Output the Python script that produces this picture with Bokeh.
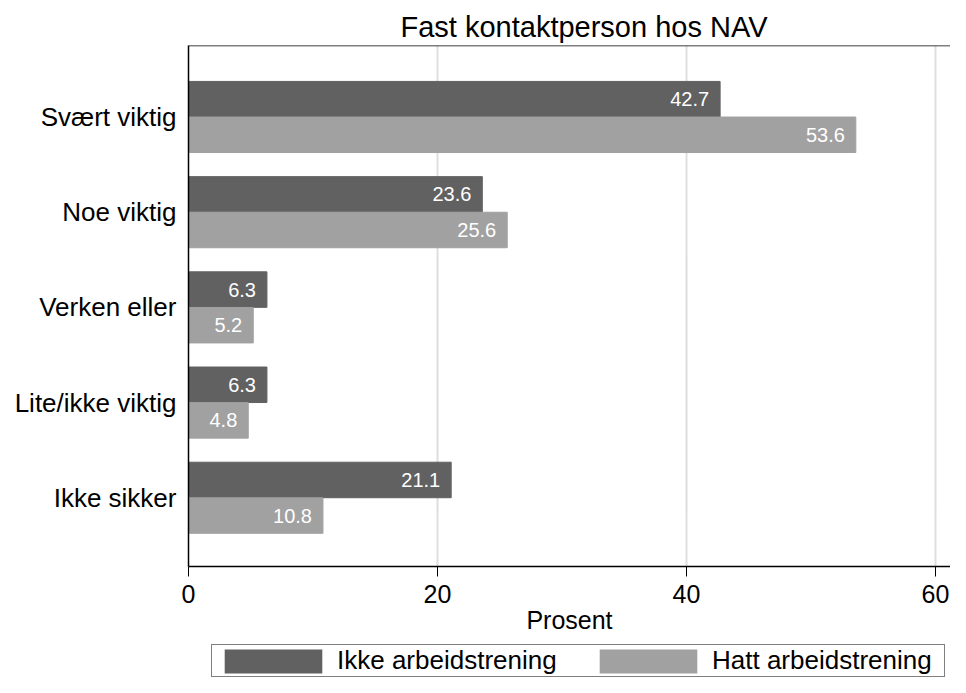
from bokeh.plotting import figure
from bokeh.layouts import column
from bokeh.models import (ColumnDataSource, FixedTicker, Legend, LegendItem, Span, Range1d)
from bokeh.embed import file_html
from bokeh.resources import INLINE

categories = ["Svært viktig", "Noe viktig", "Verken eller", "Lite/ikke viktig", "Ikke sikker"]
ikke_arbeidstrening = [42.7, 23.6, 6.3, 6.3, 21.1]
hatt_arbeidstrening = [53.6, 25.6, 5.2, 4.8, 10.8]
series_names = ["Ikke arbeidstrening", "Hatt arbeidstrening"]
x_ticks = [0, 20, 40, 60]

FONT = "Liberation Sans"
DARK = "#616161"
LIGHT = "#a1a1a1"
OFF = 0.187
H = 0.373
W = 950
LEFT = 188
FW = W - LEFT
XMAX = FW / 12.45
TOP = 45
BOTTOM = 78
LEG_H = 677 - (TOP + 521 + BOTTOM)

n = len(categories)
ypos = [n - 1 - i for i in range(n)]

src1 = ColumnDataSource(dict(y=[y + OFF for y in ypos], v=ikke_arbeidstrening,
                             lbl=[f"{v:.1f}" for v in ikke_arbeidstrening]))
src2 = ColumnDataSource(dict(y=[y - OFF for y in ypos], v=hatt_arbeidstrening,
                             lbl=[f"{v:.1f}" for v in hatt_arbeidstrening]))

p = figure(frame_width=FW, frame_height=521, output_backend="svg", toolbar_location=None,
           x_range=Range1d(0, XMAX), y_range=Range1d(-0.722, n - 1 + 0.751),
           min_border_left=LEFT, min_border_right=0, min_border_top=TOP, min_border_bottom=BOTTOM,
           background_fill_color="white", border_fill_color="white")
p.outline_line_color = None

p.title.text = "Fast kontaktperson hos NAV"
p.title.align = "left"
p.title.offset = 212
p.title.text_font = FONT
p.title.text_font_size = "29px"
p.title.text_font_style = "normal"
p.title.text_color = "black"
p.title.standoff = 6

r1 = p.hbar(y="y", right="v", left=0, height=H, source=src1, fill_color=DARK, line_color=DARK)
r2 = p.hbar(y="y", right="v", left=0, height=H, source=src2, fill_color=LIGHT, line_color=LIGHT)

for s in (src1, src2):
    p.text(x="v", y="y", text="lbl", source=s, x_offset=-11, text_align="right",
           text_baseline="middle", text_color="white", text_font_size="20px",
           text_font={"value": FONT})

p.add_layout(Span(location=n - 1 + 0.751, dimension="width", line_color="black", line_width=1.5))

# x axis
xa = p.xaxis[0]
xa.ticker = FixedTicker(ticks=x_ticks)
xa.axis_label = "Prosent"
xa.axis_label_text_font = FONT
xa.axis_label_text_font_size = "25px"
xa.axis_label_text_font_style = "normal"
xa.axis_label_standoff = 0
xa.major_label_text_font = FONT
xa.major_label_text_font_size = "25px"
xa.major_label_standoff = 8
xa.major_tick_out = 10
xa.major_tick_in = 0
xa.minor_tick_line_color = None
xa.axis_line_color = "black"
xa.axis_line_width = 1.5
xa.major_tick_line_color = "black"
xa.major_label_text_color = "black"
xa.axis_label_text_color = "black"

# y axis
ya = p.yaxis[0]
ya.ticker = FixedTicker(ticks=ypos)
ya.major_label_overrides = {y: c for y, c in zip(ypos, categories)}
ya.major_label_text_font = FONT
ya.major_label_text_font_size = "26px"
ya.major_label_text_color = "black"
ya.major_label_standoff = 12
ya.major_tick_out = 0
ya.major_tick_in = 0
ya.major_tick_line_color = None
ya.minor_tick_line_color = None
ya.axis_line_color = "black"
ya.axis_line_width = 1.5

p.ygrid.grid_line_color = None
p.xgrid.grid_line_color = "#dedede"
p.xgrid.grid_line_width = 2

# legend strip below the chart: zero-width, outline-free bars so only the legend shows
lg = figure(width=W, height=LEG_H, output_backend="svg", toolbar_location=None, title=None,
            x_range=Range1d(0, XMAX), y_range=Range1d(-1, n),
            x_axis_type=None, y_axis_type=None,
            min_border=0, min_border_left=0, min_border_right=0, min_border_top=0, min_border_bottom=0,
            background_fill_color="white", border_fill_color="white")
lg.outline_line_color = None
lg.grid.visible = False
l1 = lg.hbar(y="y", right=0, left=0, height=H, source=src1, fill_color=DARK, line_color=None)
l2 = lg.hbar(y="y", right=0, left=0, height=H, source=src2, fill_color=LIGHT, line_color=None)

legend = Legend(items=[LegendItem(label=series_names[0], renderers=[l1]),
                       LegendItem(label=series_names[1], renderers=[l2])],
                orientation="horizontal", location=(23, 0),
                glyph_width=122, glyph_height=30, label_standoff=3, spacing=18,
                padding=0, margin=0, border_line_color="black", border_line_width=1,
                label_text_font=FONT, label_text_font_size="26px", label_text_color="black",
                label_height=30, label_width=232, background_fill_color="white")
lg.add_layout(legend, "center")

open("out.html", "w").write(file_html(column(p, lg, spacing=0), INLINE))
